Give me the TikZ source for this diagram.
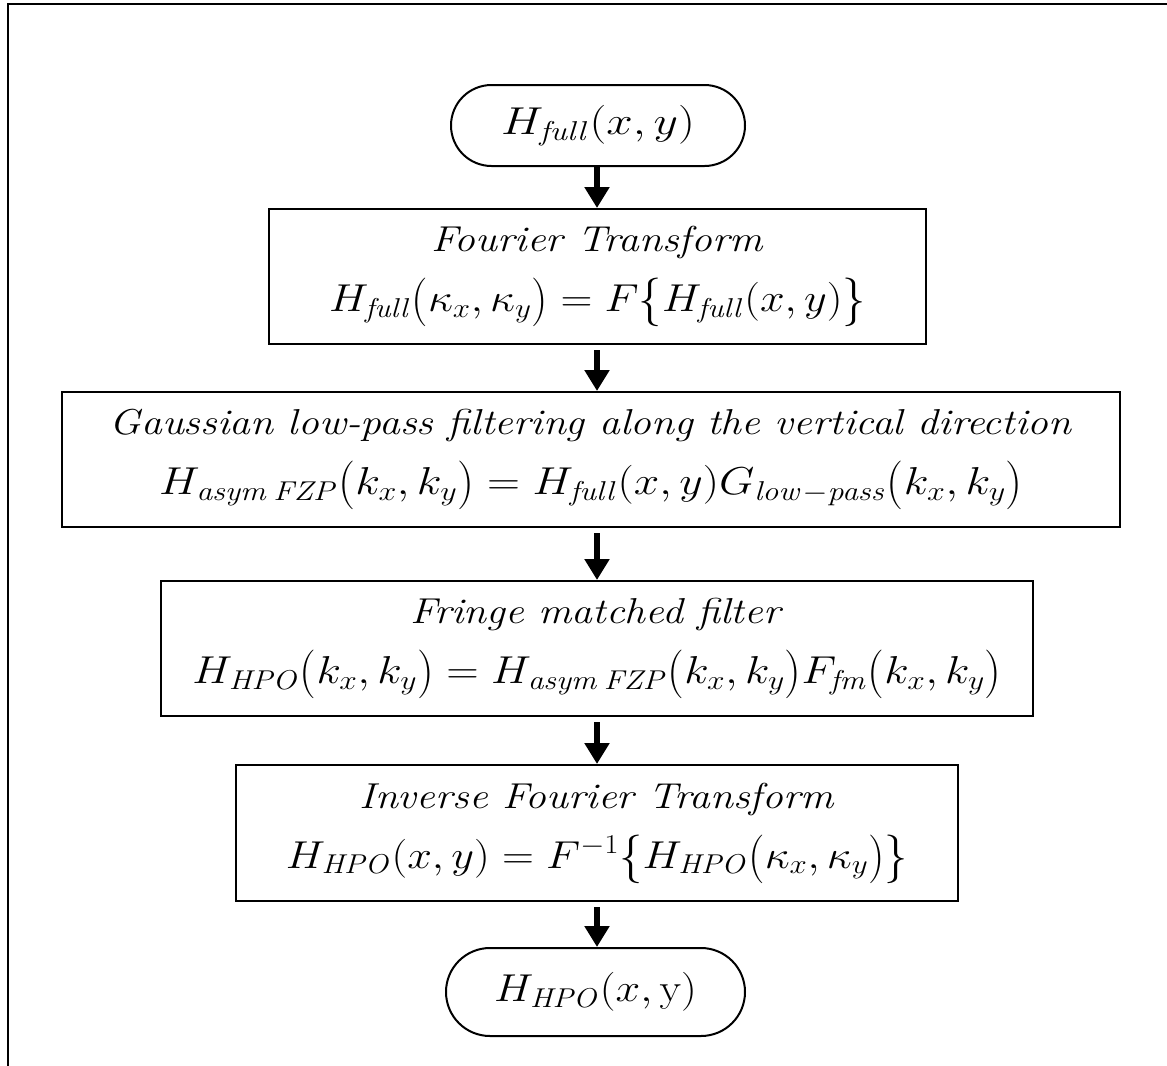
\RequirePackage{fix-cm}
\documentclass[tikz,border=0pt]{standalone}
\usepackage{graphicx}
\usetikzlibrary{arrows.meta,shapes.misc}
\newcommand{\tline}[1]{\scalebox{1.155}[1]{\textit{#1}}}
\newcommand{\mline}[2][1.22]{\scalebox{#1}[1.08]{$#2$}}
\newcommand{\bop}[1]{\mathopen{\raisebox{-0.08em}{\scalebox{1.05}[1.25]{$#1$}}}}
\newcommand{\bcl}[1]{\mathclose{\raisebox{-0.08em}{\scalebox{1.05}[1.25]{$#1$}}}}
\tikzset{
  txt/.style={font=\fontsize{36bp}{60bp}\selectfont},
  stepbox/.style={draw, line width=2bp, rectangle, inner sep=0pt, align=center, txt},
  term/.style={draw, line width=2bp, rounded rectangle, inner sep=0pt, align=center, txt},
  arr/.style={line width=6bp, -{Triangle[width=24bp,length=21bp]}},
  frame/.style={line width=2bp}
}
\begin{document}
\begin{tikzpicture}[x=1bp,y=-1bp]
\useasboundingbox (0,0) rectangle (1167,1066);
\draw[frame] (8,1066) -- (8,4) -- (1167,4);
\node[term, minimum width=294bp, minimum height=81bp] (start) at (598,125.5)
  {\mline[1.32]{H_{\mathit{full}}(x,y)}};
\node[stepbox, minimum width=657bp, minimum height=135bp] (b1) at (597.5,276.5)
  {\tline{Fourier Transform}\\ \mline[1.23]{H_{\mathit{full}}\bop(\kappa_x,\kappa_y\bcl)=F\bop\{H_{\mathit{full}}(x,y)\bcl\}}};
\node[stepbox, minimum width=1058bp, minimum height=135bp] (b2) at (591,459.5)
  {\tline{Gaussian low-pass filtering along the vertical direction}\\ \mline[1.27]{H_{\mathit{asym}\,\mathit{FZP}}\bop(k_x,k_y\bcl)=H_{\mathit{full}}(x,y)G_{\mathit{low}-\mathit{pass}}\bop(k_x,k_y\bcl)}};
\node[stepbox, minimum width=872bp, minimum height=135bp] (b3) at (597,648.5)
  {\tline{Fringe matched filter}\\ \mline[1.25]{H_{\mathit{HPO}}\bop(k_x,k_y\bcl)=H_{\mathit{asym}\,\mathit{FZP}}\bop(k_x,k_y\bcl)F_{\mathit{fm}}\bop(k_x,k_y\bcl)}};
\node[stepbox, minimum width=722bp, minimum height=136bp] (b4) at (597,833)
  {\tline{Inverse Fourier Transform}\\ \mline[1.23]{H_{\mathit{HPO}}(x,y)=F^{-1}\bop\{H_{\mathit{HPO}}\bop(\kappa_x,\kappa_y\bcl)\bcl\}}};
\node[term, minimum width=299bp, minimum height=88bp] (end) at (595.5,992)
  {\mline[1.23]{H_{\mathit{HPO}}(x,\mathrm{y})}};
\coordinate (ax) at (597,0);
\draw[arr] (start.south -| ax) -- (b1.north -| ax);
\draw[arr] ([yshift=-5bp]b1.south -| ax) -- (b2.north -| ax);
\draw[arr] ([yshift=-5bp]b2.south -| ax) -- (b3.north -| ax);
\draw[arr] ([yshift=-5bp]b3.south -| ax) -- (b4.north -| ax);
\draw[arr] ([yshift=-5bp]b4.south -| ax) -- (end.north -| ax);
\end{tikzpicture}
\end{document}
